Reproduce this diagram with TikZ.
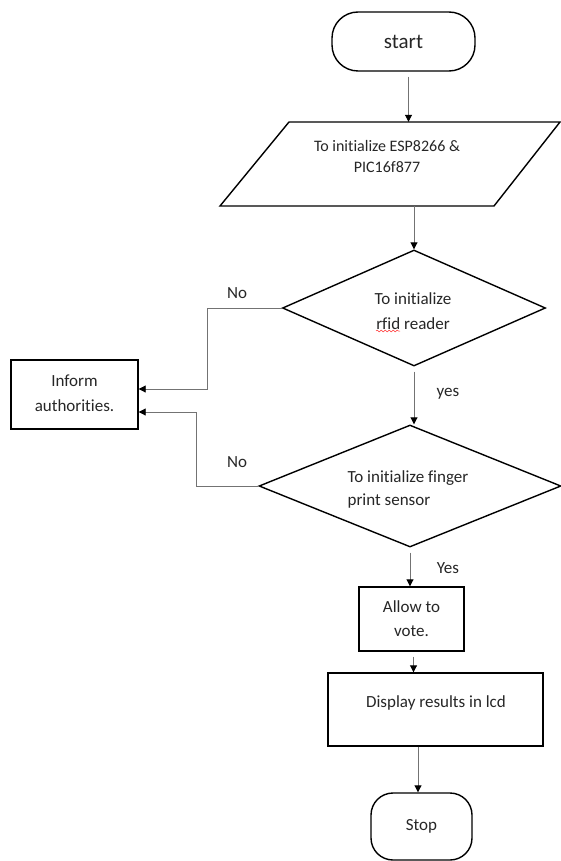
\documentclass[tikz,border=0pt]{standalone}
\usepackage{fontspec}
\setmainfont{Carlito}[Ligatures={NoCommon}]
\usetikzlibrary{shapes.geometric,arrows.meta,decorations.pathmorphing}
\begin{document}
\begin{tikzpicture}[x=1pt,y=-1pt,
  shapebox/.style={draw=black,line width=1.4pt,inner sep=0pt},
  conn/.style={draw=black!55, line width=0.9pt, -{Triangle[color=black,length=7pt,width=7pt]}},
  lbl/.style={font=\fontsize{17}{20}\selectfont, text=black!85, inner sep=0pt},
  txt/.style={align=center, text=black!85, inner sep=0pt, font=\fontsize{17}{25}\selectfont},
  squiggle/.style={draw=red!80, line width=0.5pt, decorate, decoration={snake, amplitude=0.9pt, segment length=4pt}},
]
\useasboundingbox (0,0) rectangle (561,861);

% start
\node[shapebox, rounded corners=26pt, minimum width=143pt, minimum height=59pt,
      font=\fontsize{21}{24}\selectfont, text=black!85] (start) at (403.5,41.5) {start};

% parallelogram
\node[inner sep=0pt, minimum width=340pt, minimum height=84pt] (init) at (390,164) {};
\draw[shapebox] (289,122) -- (560,122) -- (494,206) -- (220,206) -- cycle;
\node[txt, font=\fontsize{16}{21}\selectfont] (inittext) at (387,157) {To initialize ESP8266 \&\\PIC16f877};

% decision 1
\node[shapebox, diamond, minimum width=263pt, minimum height=116pt] (d1) at (414,308) {};
\node[txt] (d1text) at (413,311) {To initialize\\rfid reader};
\coordinate (sqa) at (376,331);
\coordinate (sqb) at (400,331);
\draw[squiggle] (sqa) -- (sqb);

% decision 2
\node[shapebox, diamond, minimum width=302pt, minimum height=122pt] (d2) at (410,486) {};
\node[txt, align=left, font=\fontsize{17}{23}\selectfont] (d2text) at (408,489) {To initialize finger\\print sensor};

% inform
\node[shapebox, minimum width=127pt, minimum height=69pt] (inform) at (74.5,394.5) {};
\node[txt] (informtext) at (74.5,393) {Inform\\authorities.};

% allow
\node[shapebox, minimum width=105pt, minimum height=64pt] (allow) at (411.5,619) {};
\node[txt, font=\fontsize{17}{24}\selectfont] (allowtext) at (411.5,619) {Allow to\\vote.};

% display
\node[shapebox, minimum width=215pt, minimum height=73pt] (display) at (435.5,709.5) {};
\node[txt] (displaytext) at (436,703) {Display results in lcd};

% stop
\node[shapebox, rounded corners=22pt, minimum width=101pt, minimum height=67pt,
      font=\fontsize{17}{20}\selectfont, text=black!85] (stop) at (421.5,826.5) {Stop};

% connectors
\draw[conn] ([xshift=5pt,yshift=-5pt]start.south) -- ([xshift=5pt]start.south |- init.north);
\draw[conn] (d1.north |- init.south) -- (d1.north);
\draw[conn] (d1.west) -- ++(-74,0) |- ([yshift=5.5pt]inform.east);
\draw[conn] ([yshift=-5pt]d1.south) -- (d1.south |- d2.north);
\draw[conn] (d2.west) -- ++(-62,0) |- ([yshift=-17.5pt]inform.east);
\draw[conn] ([yshift=-5pt]d2.south) -- (d2.south |- allow.north);
\draw[conn] ([xshift=2pt,yshift=-5pt]allow.south) -- ([xshift=2pt]allow.south |- display.north);
\draw[conn] ([xshift=-3.5pt]stop.north |- display.south) -- ([xshift=-3.5pt]stop.north);

% labels
\node[lbl] (no1) at (237,293) {No};
\node[lbl] (no2) at (237,462) {No};
\node[lbl] (yes1) at (448,394) {yes};
\node[lbl] (yes2) at (448,568) {Yes};
\end{tikzpicture}
\end{document}
